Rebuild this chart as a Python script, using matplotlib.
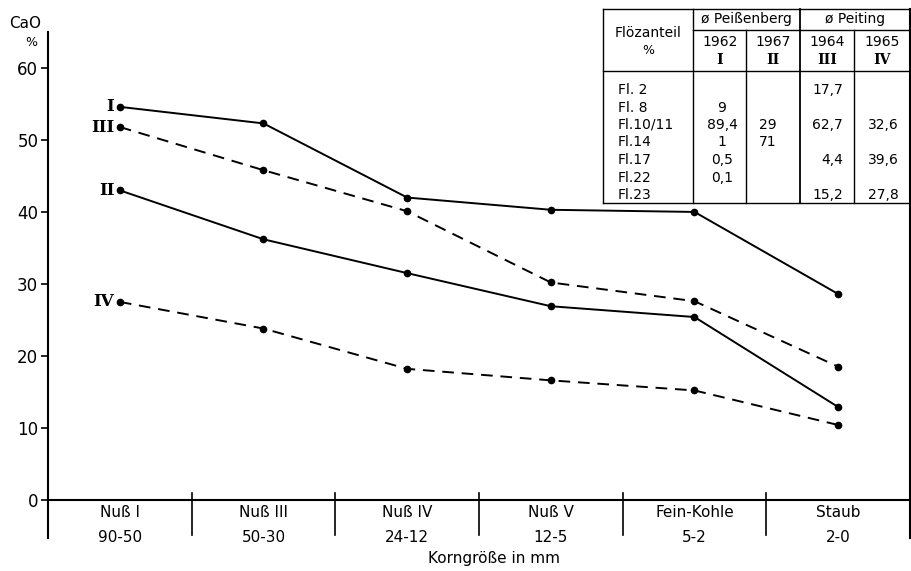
import matplotlib.pyplot as plt
from matplotlib.lines import Line2D

# CaO content per grain size class
categories = ["Nuß I", "Nuß III", "Nuß IV", "Nuß V", "Fein-Kohle", "Staub"]
size_ranges = ["90-50", "50-30", "24-12", "12-5", "5-2", "2-0"]
cao_I = [54.6, 52.3, 42.0, 40.3, 40.0, 28.6]
cao_II = [43.0, 36.2, 31.5, 26.9, 25.4, 12.9]
cao_III = [51.8, 45.8, 40.1, 30.2, 27.6, 18.5]
cao_IV = [27.5, 23.8, 18.2, 16.6, 15.2, 10.4]
yticks = [0, 10, 20, 30, 40, 50, 60]

# seam share table
table_rows = ["Fl. 2", "Fl. 8", "Fl.10/11", "Fl.14", "Fl.17", "Fl.22", "Fl.23"]
share_I = ["", "9", "89,4", "1", "0,5", "0,1", ""]
share_II = ["", "", "29", "71", "", "", ""]
share_III = ["17,7", "", "62,7", "", "4,4", "", "15,2"]
share_IV = ["", "", "32,6", "", "39,6", "", "27,8"]
years = ["1962", "1967", "1964", "1965"]
romans = ["I", "II", "III", "IV"]

W, H = 912, 571
fig = plt.figure(figsize=(W / 100, H / 100), dpi=100)
ax = fig.add_axes([48 / W, (H - 538) / H, 862 / W, 506 / H])

x = [i + 0.5 for i in range(len(categories))]
series = [(cao_I, "-", "I"), (cao_II, "-", "II"),
          (cao_III, (0, (6, 4)), "III"), (cao_IV, (0, (6, 4)), "IV")]
for vals, ls, name in series:
    ax.plot(x, vals, color="black", linestyle=ls, linewidth=1.4,
            marker="o", markersize=4.5)
    ax.annotate(name, (x[0], vals[0]), xytext=(-4, 0), textcoords="offset points",
                ha="right", va="center", fontsize=12, family="DejaVu Serif",
                fontweight="bold")

ax.set_xlim(0, 6)
ax.set_ylim(-5.3, 65)
for s in ["top", "right", "bottom"]:
    ax.spines[s].set_visible(False)
ax.spines["left"].set_linewidth(1.5)
ax.set_xticks([])
ax.set_yticks(yticks)
ax.set_yticklabels([str(t) for t in yticks], fontsize=12)
ax.tick_params(axis="y", length=5, width=1.2, pad=2)

# x axis with separators
ax.plot([0, 6], [0, 0], color="black", linewidth=1.5, clip_on=False)
for k in range(1, 6):
    ax.plot([k, k], [-4.9, 1.0], color="black", linewidth=1.2, clip_on=False)
for xi, cat, rng in zip(x, categories, size_ranges):
    ax.text(xi, -1.8, cat, ha="center", va="center", fontsize=11, clip_on=False)
    ax.text(xi, -5.2, rng, ha="center", va="center", fontsize=11, clip_on=False)


def px(xp, yp):
    return xp / W, 1 - yp / H


def line(x0, y0, x1, y1, lw=1.0):
    (a, b), (c, d) = px(x0, y0), px(x1, y1)
    fig.add_artist(Line2D([a, c], [b, d], color="black", linewidth=lw))


def text(xp, yp, s, ha="center", **kw):
    a, b = px(xp, yp)
    fig.text(a, b, s, ha=ha, va="center", **kw)


fig.text(*px(25, 24), "CaO", ha="center", va="center", fontsize=11)
fig.text(*px(31, 42), "%", ha="center", va="center", fontsize=9)
fig.text(*px(494, 559), "Korngröße in mm", ha="center", va="center", fontsize=11)

# right border
line(910, 9, 910, 538, lw=1.5)

# table frame
line(603, 9, 910, 9)
line(603, 9, 603, 203)
line(603, 203, 910, 203)
line(603, 71, 910, 71)
line(693, 30, 910, 30)
line(693, 9, 693, 203)
line(746, 30, 746, 203)
line(800, 9, 800, 203, lw=1.3)
line(854, 30, 854, 203)

text(648, 33, "Flözanteil", fontsize=10)
text(648, 50, "%", fontsize=9)
text(746, 19, "ø Peißenberg", fontsize=10)
text(855, 19, "ø Peiting", fontsize=10)
col_centers = [720, 773, 827, 882]
for cx, yr, rm in zip(col_centers, years, romans):
    text(cx, 42, yr, fontsize=10)
    text(cx, 60, rm, fontsize=10, family="DejaVu Serif", fontweight="bold")

row_y = [90 + 17.5 * i for i in range(len(table_rows))]
for ry, name, a, b, c, d in zip(row_y, table_rows, share_I, share_II,
                                share_III, share_IV):
    text(618, ry, name, ha="left", fontsize=10)
    text(722, ry, a, fontsize=10)
    text(768, ry, b, fontsize=10)
    text(843, ry, c, ha="right", fontsize=10)
    text(899, ry, d, ha="right", fontsize=10)

fig.savefig("out.png", dpi=100)
